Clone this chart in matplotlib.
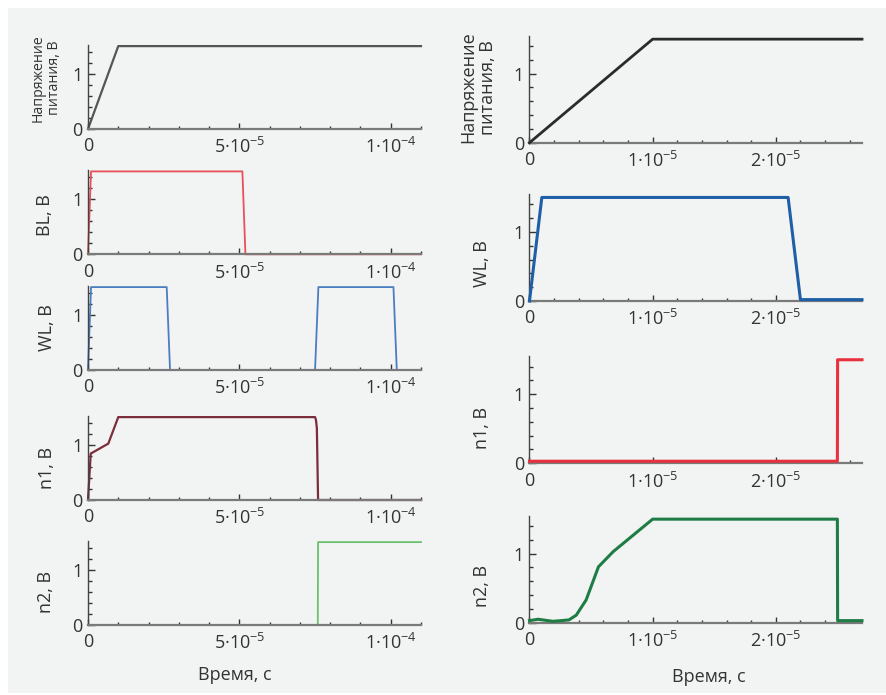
import matplotlib
matplotlib.use("Agg")
import matplotlib.pyplot as plt
from matplotlib.patches import Rectangle
from matplotlib.ticker import FixedLocator, MultipleLocator

plt.rcParams['font.family'] = ['Open Sans', 'DejaVu Sans']
plt.rcParams['mathtext.fontset'] = 'custom'
plt.rcParams['mathtext.rm'] = 'Open Sans'
plt.rcParams['mathtext.it'] = 'Open Sans:italic'
plt.rcParams['mathtext.bf'] = 'Open Sans:bold'

# ---------------- data: left column (0 .. 1.1e-4 s) ----------------
t_sup_l = [0, 1.0e-5, 1.1e-4]
v_sup_l = [0, 1.5, 1.5]

t_bl = [0, 0.1e-5, 5.1e-5, 5.2e-5, 1.1e-4]
v_bl = [0, 1.5, 1.5, 0, 0]

t_wl_l = [0, 0.1e-5, 2.6e-5, 2.71e-5, 7.5e-5, 7.61e-5, 10.09e-5, 10.2e-5, 1.1e-4]
v_wl_l = [0, 1.5, 1.5, 0, 0, 1.5, 1.5, 0, 0]

t_n1_l = [0, 0.09e-5, 0.67e-5, 1.0e-5, 7.5e-5, 7.53e-5, 7.56e-5, 7.6e-5, 1.1e-4]
v_n1_l = [0, 0.84, 1.02, 1.5, 1.5, 1.45, 1.3, 0, 0]

t_n2_l = [0, 7.59e-5, 7.6e-5, 1.1e-4]
v_n2_l = [0, 0, 1.5, 1.5]

# ---------------- data: right column (0 .. 2.7e-5 s) ----------------
t_sup_r = [0, 1.0e-5, 2.7e-5]
v_sup_r = [0, 1.5, 1.5]

t_wl_r = [0, 0.1e-5, 2.1e-5, 2.2e-5, 2.7e-5]
v_wl_r = [0, 1.5, 1.5, 0.02, 0.02]

t_n1_r = [0, 2.5e-5, 2.502e-5, 2.7e-5]
v_n1_r = [0.03, 0.03, 1.5, 1.5]

t_n2_r = [0, 0.07e-5, 0.19e-5, 0.32e-5, 0.38e-5, 0.46e-5, 0.56e-5, 0.68e-5,
          1.0e-5, 2.5e-5, 2.502e-5, 2.7e-5]
v_n2_r = [0.03, 0.05, 0.02, 0.04, 0.11, 0.33, 0.81, 1.03,
          1.5, 1.5, 0.03, 0.03]

left_labels = ["Напряжение\nпитания, В", "BL, В", "WL, В", "n1, В", "n2, В"]
right_labels = ["Напряжение\nпитания, В", "WL, В", "n1, В", "n2, В"]
xlabel = "Время, с"

left_xticks = [0, 5e-5, 1e-4]
left_xticklabels = ["0", "5·$10^{-5}$", "1·$10^{-4}$"]
right_xticks = [0, 1e-5, 2e-5]
right_xticklabels = ["0", "1·$10^{-5}$", "2·$10^{-5}$"]
yticks = [0, 1]
yticklabels = ["0", "1"]

W, H = 887, 695
fig = plt.figure(figsize=(W / 100, H / 100), dpi=100)
bg = Rectangle((8 / W, 2 / H), (W - 8) / W, (H - 10) / H,
               transform=fig.transFigure, facecolor='#f2f3f3',
               edgecolor='none', zorder=-10)
fig.patches.append(bg)

TXT = '#333333'


def make_ax(x0, x1, ybot, height, xlim, ylim_top, xticks, xticklabels, xminor):
    ax = fig.add_axes([x0 / W, 1 - ybot / H, (x1 - x0) / W, height / H])
    ax.set_facecolor('none')
    ax.set_xlim(*xlim)
    ax.set_ylim(0, ylim_top)
    for s in ['top', 'right']:
        ax.spines[s].set_visible(False)
    ax.spines['bottom'].set_color('#7a7a7a')
    ax.spines['bottom'].set_linewidth(1.6)
    ax.spines['left'].set_color('#444444')
    ax.spines['left'].set_linewidth(1.0)
    ax.xaxis.set_major_locator(FixedLocator(xticks))
    ax.set_xticklabels(xticklabels)
    ax.xaxis.set_minor_locator(MultipleLocator(xminor))
    ax.yaxis.set_major_locator(FixedLocator(yticks))
    ax.set_yticklabels(yticklabels)
    ax.yaxis.set_minor_locator(FixedLocator([0.2, 0.4, 0.6, 0.8, 1.2, 1.4]))
    ax.tick_params(axis='both', which='both', direction='in', color='#333333',
                   labelcolor=TXT, labelsize=13)
    ax.tick_params(axis='x', which='major', length=4, width=1, pad=6)
    ax.tick_params(axis='x', which='minor', length=2.5, width=1)
    ax.tick_params(axis='y', which='major', length=5, width=1, pad=4)
    ax.tick_params(axis='y', which='minor', length=3, width=1)
    return ax


# left column
left_bottoms = [129, 254.3, 370, 500, 625]
left_series = [(t_sup_l, v_sup_l, '#555555', 1.6),
               (t_bl, v_bl, '#e8505a', 1.3),
               (t_wl_l, v_wl_l, '#4a7ec0', 1.3),
               (t_n1_l, v_n1_l, '#7b2d3b', 1.6),
               (t_n2_l, v_n2_l, '#6cc070', 1.3)]
left_label_pos = [(46, 78), (45.3, 215), (46.7, 327.6), (47.5, 468), (45.8, 591.7)]
for i, (t, v, c, lw) in enumerate(left_series):
    ax = make_ax(88, 421, left_bottoms[i], 84, (0, 1.1e-4), 1.52,
                 left_xticks, left_xticklabels, 1e-5)
    ax.plot(t, v, color=c, lw=lw, clip_on=False, zorder=2)
    lx, ly = left_label_pos[i]
    fs = 10.2 if i == 0 else 13
    fig.text(lx / W, 1 - ly / H, left_labels[i], rotation=90, ha='center',
             va='center', fontsize=fs, color=TXT, linespacing=1.1)

# right column
right_bottoms = [142.7, 301, 463.3, 622.7]
right_series = [(t_sup_r, v_sup_r, '#2b2b2b', 2.0),
                (t_wl_r, v_wl_r, '#1f5fa8', 2.2),
                (t_n1_r, v_n1_r, '#e8303f', 2.2),
                (t_n2_r, v_n2_r, '#1e7d45', 2.2)]
right_label_pos = [(478, 87.5), (481.7, 264), (482.5, 428), (481.7, 585.8)]
for i, (t, v, c, lw) in enumerate(right_series):
    ax = make_ax(529.5, 862, right_bottoms[i], 107, (0, 2.7e-5), 1.55,
                 right_xticks, right_xticklabels, 2e-6)
    ax.plot(t, v, color=c, lw=lw, clip_on=False, zorder=3)
    lx, ly = right_label_pos[i]
    fig.text(lx / W, 1 - ly / H, right_labels[i], rotation=90, ha='center',
             va='center', fontsize=13, color=TXT, linespacing=1.1)

fig.text(235 / W, 1 - 680 / H, xlabel, ha='center', va='baseline',
         fontsize=13, color=TXT)
fig.text(709 / W, 1 - 682 / H, xlabel, ha='center', va='baseline',
         fontsize=13, color=TXT)

fig.savefig("out.png", dpi=100, facecolor='white')
